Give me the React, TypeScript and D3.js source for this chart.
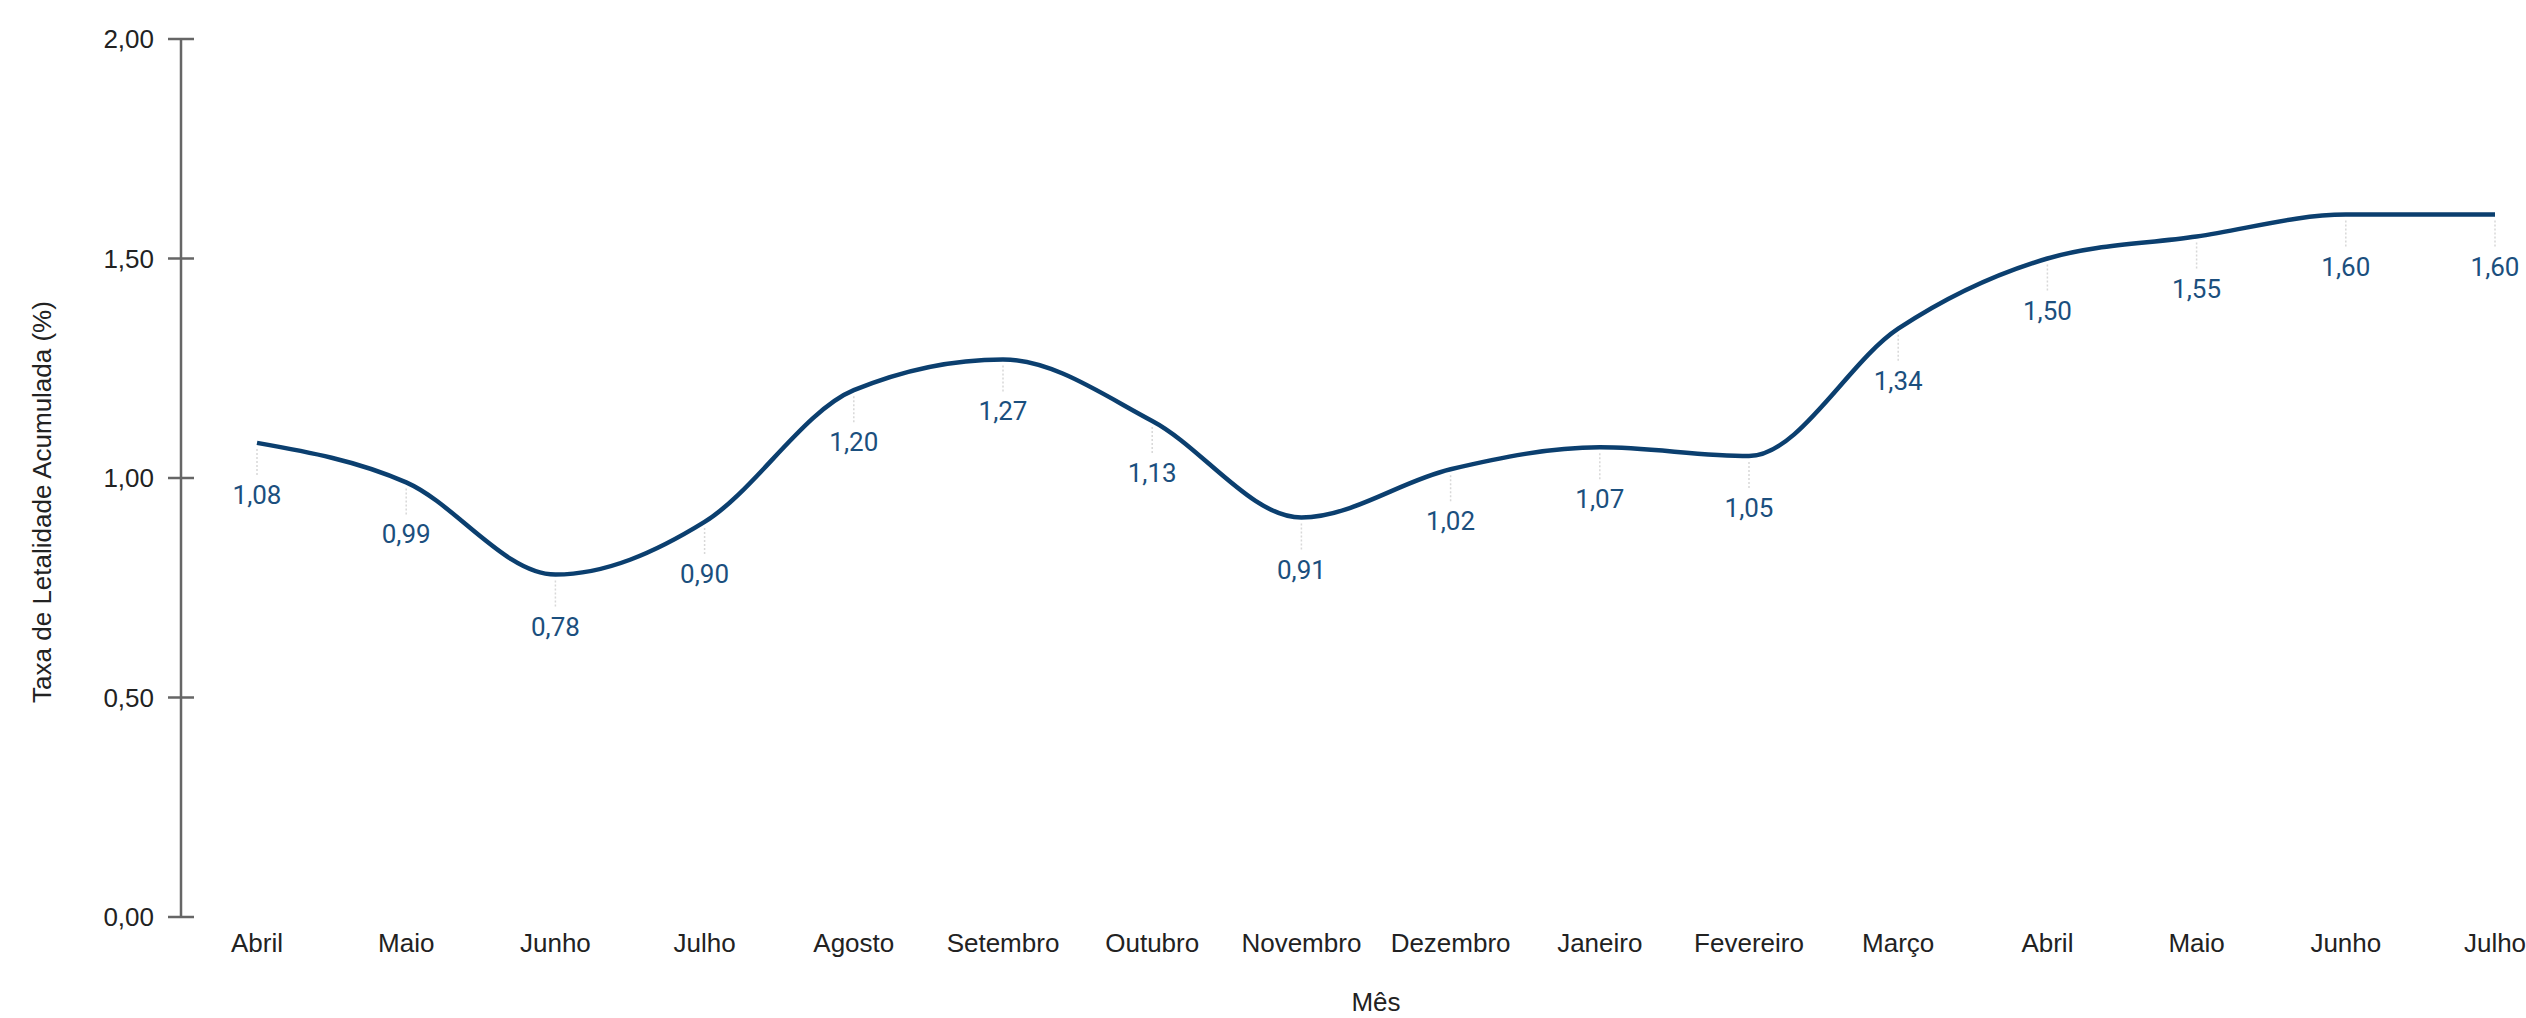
import * as d3 from "d3";
import { useEffect, useRef } from "react";

const months = [
  "Abril", "Maio", "Junho", "Julho", "Agosto", "Setembro", "Outubro", "Novembro",
  "Dezembro", "Janeiro", "Fevereiro", "Março", "Abril", "Maio", "Junho", "Julho",
];
const rates = [1.08, 0.99, 0.78, 0.9, 1.2, 1.27, 1.13, 0.91, 1.02, 1.07, 1.05, 1.34, 1.5, 1.55, 1.6, 1.6];
const yTicks = [0, 0.5, 1, 1.5, 2];

const fmt = (v: number) => v.toFixed(2).replace(".", ",");

export default function App() {
  const ref = useRef<SVGSVGElement>(null);

  useEffect(() => {
    const svg = d3.select(ref.current);
    svg.selectAll("*").remove();

    const left = 257, right = 2495, top = 39, bottom = 917;
    const idx = months.map((_, i) => i);

    const x = d3.scalePoint<number>().domain(idx).range([left, right]);
    const y = d3.scaleLinear().domain([0, 2]).range([bottom, top]);

    // y axis
    const ya = svg.append("g");
    ya.append("line")
      .attr("x1", 181).attr("x2", 181)
      .attr("y1", y(2)).attr("y2", y(0))
      .attr("stroke", "#666").attr("stroke-width", 2.5);
    ya.selectAll("line.tick").data(yTicks).join("line")
      .attr("class", "tick")
      .attr("x1", 168).attr("x2", 194)
      .attr("y1", (d) => y(d)).attr("y2", (d) => y(d))
      .attr("stroke", "#666").attr("stroke-width", 2.5);
    ya.selectAll("text").data(yTicks).join("text")
      .attr("x", 154).attr("y", (d) => y(d))
      .attr("dy", "0.36em")
      .attr("text-anchor", "end")
      .attr("font-family", "'Liberation Sans', Arial, sans-serif")
      .attr("font-size", 26)
      .attr("fill", "#222")
      .text((d) => fmt(d));

    // x labels
    svg.append("g").selectAll("text").data(idx).join("text")
      .attr("x", (i) => x(i)!)
      .attr("y", 952)
      .attr("text-anchor", "middle")
      .attr("font-family", "'Liberation Sans', Arial, sans-serif")
      .attr("font-size", 26)
      .attr("fill", "#222")
      .text((i) => months[i]);

    svg.append("text")
      .attr("x", (left + right) / 2).attr("y", 1011)
      .attr("text-anchor", "middle")
      .attr("font-family", "'Liberation Sans', Arial, sans-serif")
      .attr("font-size", 26)
      .attr("fill", "#222")
      .text("Mês");

    svg.append("text")
      .attr("transform", "translate(51,502) rotate(-90)")
      .attr("text-anchor", "middle")
      .attr("font-family", "'Liberation Sans', Arial, sans-serif")
      .attr("font-size", 26)
      .attr("fill", "#222")
      .text("Taxa de Letalidade Acumulada (%)");

    // leader lines
    svg.append("g").selectAll("line").data(idx).join("line")
      .attr("x1", (i) => x(i)!).attr("x2", (i) => x(i)!)
      .attr("y1", (i) => y(rates[i]) + 6)
      .attr("y2", (i) => y(rates[i]) + 34)
      .attr("stroke", "#d8d8d8")
      .attr("stroke-width", 1.5)
      .attr("stroke-dasharray", "2,2");

    // line
    svg.append("path")
      .datum(idx)
      .attr("fill", "none")
      .attr("stroke", "#0b3f6f")
      .attr("stroke-width", 4.5)
      .attr("d", d3.line<number>()
        .x((i) => x(i)!)
        .y((i) => y(rates[i]))
        .curve(d3.curveMonotoneX));

    // value labels
    svg.append("g").selectAll("text").data(idx).join("text")
      .attr("x", (i) => x(i)!)
      .attr("y", (i) => y(rates[i]) + 61)
      .attr("text-anchor", "middle")
      .attr("font-family", "Roboto, sans-serif")
      .attr("font-size", 26)
      .attr("fill", "#1b4f7e")
      .text((i) => fmt(rates[i]));
  }, []);

  return (
    <svg
      ref={ref}
      width={2526}
      height={1018}
      style={{ position: "absolute", left: 0, top: 0, background: "#fff" }}
    />
  );
}
